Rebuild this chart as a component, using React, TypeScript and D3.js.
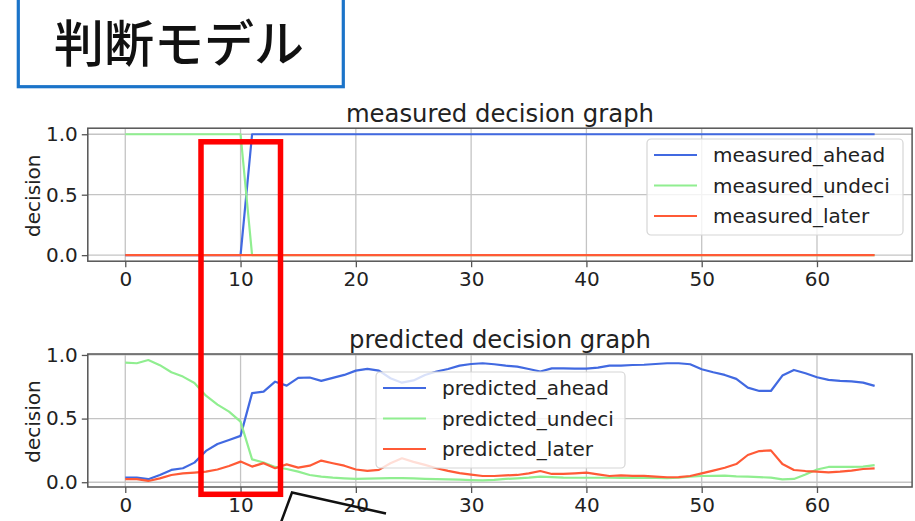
import * as d3 from "d3";
import { useEffect, useRef } from "react";

// time steps shared by both panels
const steps = d3.range(66);
const xTicks = [0, 10, 20, 30, 40, 50, 60];
const yTicks = [0, 0.5, 1];

const measuredAhead = [
  0, 0, 0, 0, 0, 0, 0, 0, 0, 0, 0, 1, 1, 1, 1, 1, 1, 1, 1, 1, 1, 1,
  1, 1, 1, 1, 1, 1, 1, 1, 1, 1, 1, 1, 1, 1, 1, 1, 1, 1, 1, 1, 1, 1,
  1, 1, 1, 1, 1, 1, 1, 1, 1, 1, 1, 1, 1, 1, 1, 1, 1, 1, 1, 1, 1, 1,
];
const measuredUndeci = [
  1, 1, 1, 1, 1, 1, 1, 1, 1, 1, 1, 0, 0, 0, 0, 0, 0, 0, 0, 0, 0, 0,
  0, 0, 0, 0, 0, 0, 0, 0, 0, 0, 0, 0, 0, 0, 0, 0, 0, 0, 0, 0, 0, 0,
  0, 0, 0, 0, 0, 0, 0, 0, 0, 0, 0, 0, 0, 0, 0, 0, 0, 0, 0, 0, 0, 0,
];
const measuredLater = [
  0, 0, 0, 0, 0, 0, 0, 0, 0, 0, 0, 0, 0, 0, 0, 0, 0, 0, 0, 0, 0, 0,
  0, 0, 0, 0, 0, 0, 0, 0, 0, 0, 0, 0, 0, 0, 0, 0, 0, 0, 0, 0, 0, 0,
  0, 0, 0, 0, 0, 0, 0, 0, 0, 0, 0, 0, 0, 0, 0, 0, 0, 0, 0, 0, 0, 0,
];

const predictedAhead = [
  0.036, 0.036, 0.024, 0.057, 0.097, 0.11, 0.154, 0.246, 0.3, 0.332, 0.364,
  0.7, 0.712, 0.79, 0.759, 0.82, 0.823, 0.796, 0.82, 0.843, 0.877, 0.89,
  0.877, 0.817, 0.782, 0.8, 0.843, 0.87, 0.89, 0.916, 0.929, 0.935, 0.927,
  0.916, 0.908, 0.89, 0.87, 0.895, 0.895, 0.893, 0.893, 0.9, 0.916, 0.916,
  0.921, 0.923, 0.929, 0.935, 0.935, 0.927, 0.888, 0.864, 0.843, 0.812,
  0.743, 0.717, 0.717, 0.838, 0.882, 0.856, 0.825, 0.804, 0.796, 0.793,
  0.783, 0.757,
];
const predictedUndeci = [
  0.94, 0.935, 0.96, 0.92, 0.864, 0.83, 0.78, 0.68, 0.61, 0.555, 0.476,
  0.18, 0.155, 0.12, 0.104, 0.083, 0.057, 0.044, 0.036, 0.031, 0.026, 0.028,
  0.03, 0.032, 0.033, 0.03, 0.027, 0.025, 0.022, 0.02, 0.016, 0.014, 0.018,
  0.026, 0.031, 0.036, 0.044, 0.04, 0.036, 0.035, 0.035, 0.035, 0.035, 0.034,
  0.034, 0.034, 0.034, 0.033, 0.035, 0.044, 0.049, 0.05, 0.052, 0.046, 0.044,
  0.04, 0.036, 0.023, 0.026, 0.06, 0.1, 0.12, 0.12, 0.12, 0.122, 0.135,
];
const predictedLater = [
  0.024, 0.024, 0.01, 0.03, 0.057, 0.07, 0.076, 0.083, 0.1, 0.128, 0.162,
  0.123, 0.15, 0.11, 0.14, 0.115, 0.13, 0.17, 0.149, 0.13, 0.1, 0.089,
  0.097, 0.149, 0.188, 0.16, 0.136, 0.11, 0.089, 0.071, 0.06, 0.049, 0.049,
  0.054, 0.057, 0.07, 0.088, 0.065, 0.065, 0.07, 0.075, 0.062, 0.049, 0.054,
  0.05, 0.05, 0.044, 0.039, 0.04, 0.049, 0.07, 0.091, 0.114, 0.143, 0.214,
  0.245, 0.25, 0.143, 0.096, 0.088, 0.083, 0.078, 0.083, 0.091, 0.104, 0.109,
];

const colors = ["#4169e1", "#90ee90", "#ff5a36"];
const FONT = "'DejaVu Sans', sans-serif";

function drawPanel(svg, { top, title, names, series, legend }) {
  const h = 133;
  const x = d3.scaleLinear().domain([-3.25, 68.25]).range([87.8, 912.1]);
  const all = series.flat();
  const lo = d3.min(all);
  const hi = d3.max(all);
  const pad = (hi - lo) * 0.05;
  const y = d3.scaleLinear().domain([lo - pad, hi + pad]).range([top + h, top]);
  const [x0, x1] = x.range();

  const g = svg.append("g");

  // grid
  g.selectAll(".gx")
    .data(xTicks)
    .enter()
    .append("line")
    .attr("x1", (d) => x(d))
    .attr("x2", (d) => x(d))
    .attr("y1", top)
    .attr("y2", top + h)
    .attr("stroke", "#c4c4c4")
    .attr("stroke-width", 1.3);
  g.selectAll(".gy")
    .data(yTicks)
    .enter()
    .append("line")
    .attr("x1", x0)
    .attr("x2", x1)
    .attr("y1", (d) => y(d))
    .attr("y2", (d) => y(d))
    .attr("stroke", "#c4c4c4")
    .attr("stroke-width", 1.3);

  // axes
  const xAxis = g
    .append("g")
    .attr("transform", `translate(0,${top + h})`)
    .call(d3.axisBottom(x).tickValues(xTicks).tickSize(6).tickPadding(5));
  const yAxis = g
    .append("g")
    .attr("transform", `translate(${x0},0)`)
    .call(
      d3.axisLeft(y).tickValues(yTicks).tickSize(6).tickPadding(4)
        .tickFormat(d3.format(".1f"))
    );
  [xAxis, yAxis].forEach((a) => {
    a.select(".domain").remove();
    a.selectAll("line").attr("stroke", "#555").attr("stroke-width", 1.3);
    a.selectAll("text")
      .attr("fill", "#222")
      .style("font-family", FONT)
      .style("font-size", "20px");
  });

  // lines
  const line = d3
    .line()
    .x((d, i) => x(steps[i]))
    .y((d) => y(d));
  series.forEach((vals, k) => {
    g.append("path")
      .datum(vals)
      .attr("d", line)
      .attr("fill", "none")
      .attr("stroke", colors[k])
      .attr("stroke-width", 2.2)
      .attr("stroke-linejoin", "round");
  });

  // frame
  g.append("rect")
    .attr("x", x0)
    .attr("y", top)
    .attr("width", x1 - x0)
    .attr("height", h)
    .attr("fill", "none")
    .attr("stroke", "#555")
    .attr("stroke-width", 1.5);

  // title and label
  g.append("text")
    .attr("x", (x0 + x1) / 2)
    .attr("y", top - 6)
    .attr("text-anchor", "middle")
    .attr("fill", "#222")
    .style("font-family", FONT)
    .style("font-size", "24.3px")
    .text(title);
  g.append("text")
    .attr("transform", `translate(33,${top + h / 2 + 1}) rotate(-90)`)
    .attr("text-anchor", "middle")
    .attr("dominant-baseline", "central")
    .attr("fill", "#222")
    .style("font-family", FONT)
    .style("font-size", "20px")
    .text("decision");

  // legend
  const lg = g.append("g").attr("transform", `translate(${legend[0]},${legend[1]})`);
  lg.append("rect")
    .attr("width", legend[2])
    .attr("height", 96)
    .attr("rx", 4)
    .attr("fill", "white")
    .attr("fill-opacity", 0.8)
    .attr("stroke", "#d6d6d6")
    .attr("stroke-width", 1.2);
  names.forEach((name, k) => {
    const cy = 16 + k * 30.5;
    lg.append("line")
      .attr("x1", 7)
      .attr("x2", 50)
      .attr("y1", cy)
      .attr("y2", cy)
      .attr("stroke", colors[k])
      .attr("stroke-width", 2.2);
    lg.append("text")
      .attr("x", 66)
      .attr("y", cy)
      .attr("dominant-baseline", "central")
      .attr("fill", "#222")
      .style("font-family", FONT)
      .style("font-size", "20px")
      .text(name);
  });
}

export default function App() {
  const ref = useRef(null);

  useEffect(() => {
    const svg = d3.select(ref.current);
    svg.selectAll("*").remove();

    svg.append("rect").attr("width", 915).attr("height", 521).attr("fill", "white");

    // header box
    svg.append("rect")
      .attr("x", 18.3)
      .attr("y", -5)
      .attr("width", 325)
      .attr("height", 91.7)
      .attr("fill", "white")
      .attr("stroke", "#1b74c9")
      .attr("stroke-width", 3.2);
    svg.append("text")
      .attr("x", 179)
      .attr("y", 62)
      .attr("text-anchor", "middle")
      .attr("fill", "#111")
      .style("font-family", "'Noto Sans CJK JP', sans-serif")
      .style("font-size", "50px")
      .style("font-weight", 500)
      .text("判断モデル");

    drawPanel(svg, {
      top: 128.2,
      title: "measured decision graph",
      names: ["measured_ahead", "measured_undeci", "measured_later"],
      series: [measuredAhead, measuredUndeci, measuredLater],
      legend: [647, 139, 256],
    });
    drawPanel(svg, {
      top: 354,
      title: "predicted decision graph",
      names: ["predicted_ahead", "predicted_undeci", "predicted_later"],
      series: [predictedAhead, predictedUndeci, predictedLater],
      legend: [376, 372, 249],
    });

    // highlight box
    svg.append("rect")
      .attr("x", 201)
      .attr("y", 141.8)
      .attr("width", 79.5)
      .attr("height", 352.5)
      .attr("fill", "none")
      .attr("stroke", "#ff0000")
      .attr("stroke-width", 5.5);

    // callout edge
    svg.append("polyline")
      .attr("points", "280,525 292,492.5 386,513.5")
      .attr("fill", "none")
      .attr("stroke", "#111")
      .attr("stroke-width", 2.5);
  }, []);

  return (
    <svg
      ref={ref}
      width={915}
      height={521}
      style={{ position: "absolute", left: 0, top: 0, display: "block" }}
    />
  );
}
